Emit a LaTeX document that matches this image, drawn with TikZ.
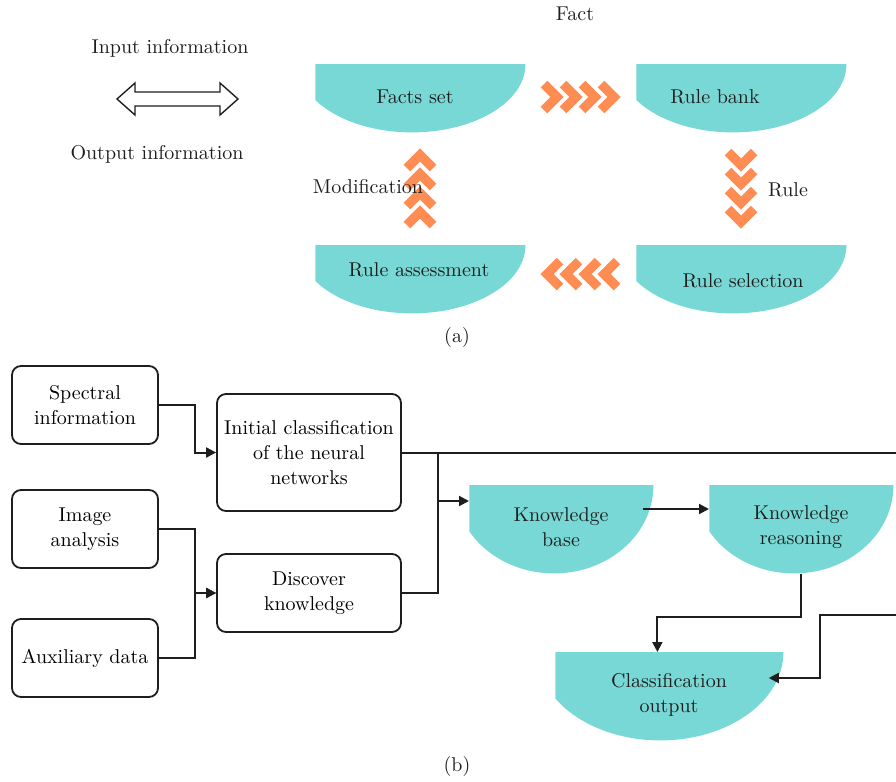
\documentclass[tikz,border=0pt]{standalone}
\usetikzlibrary{calc,arrows.meta,positioning}

\definecolor{bowlc}{RGB}{120,216,213}
\definecolor{chevc}{RGB}{255,140,82}
\definecolor{linec}{RGB}{30,30,30}

\tikzset{
  box/.style={draw=linec, line width=0.9pt, rounded corners=4.5pt, align=center, inner sep=0pt},
  bowl/.style 2 args={inner sep=0pt, anchor=north west, minimum width=#1, minimum height=#2,
    path picture={\fill[bowlc] ($(path picture bounding box.north west)!0.46!(path picture bounding box.north east)$)
      ellipse [x radius=0.54*#1, y radius=#2];}},
  lbl/.style={align=center, text=linec},
  conn/.style={draw=linec, line width=1pt},
  arr/.style={conn, -{Triangle[length=5pt,width=5pt]}},
  chev/.style={draw=chevc, line width=4.6pt},
}

\begin{document}
\begin{tikzpicture}[x=0.5pt,y=-0.5pt,font=\fontsize{10}{12.6}\selectfont]
\useasboundingbox (0,0) rectangle (896,782);

% (a) rule cycle
\node[lbl] (fact) at (575,14) {Fact};
\node[lbl] (inp) at (170,48) {Input information};
\node[lbl] (outp) at (157,154) {Output information};
\draw[draw=linec, line width=0.7pt, fill=white] (117,99) -- (135,83) -- (135,92) -- (220,92) -- (220,83)
  -- (238,99) -- (220,115) -- (220,106) -- (135,106) -- (135,115) -- cycle;

\node[bowl={105pt}{34pt}] (facts) at (315,64) {};
\node[bowl={105pt}{34pt}] (bank) at (636,64) {};
\node[bowl={105pt}{34pt}] (assess) at (315,245) {};
\node[bowl={105pt}{34pt}] (select) at (636,245) {};
\node[lbl] (facts-l) at (415,97) {Facts set};
\node[lbl] (bank-l) at (715,97) {Rule bank};
\node[lbl] (assess-l) at (419,270) {Rule assessment};
\node[lbl] (select-l) at (743,281) {Rule selection};

\foreach \x in {544,563,582,601}
  \draw[chev] (\x,84) -- (\x+13,97) -- (\x,110);
\foreach \y in {152,171,190,209}
  \draw[chev] (728,\y) -- (741,\y+13) -- (754,\y);
\foreach \x in {547,566,585,604}
  \draw[chev] (\x+13,261) -- (\x,274) -- (\x+13,287);
\foreach \y in {155,174,193,212}
  \draw[chev] (407,\y+13) -- (420,\y) -- (433,\y+13);

\node[lbl] (modif) at (368,187) {Modification};
\node[lbl] (rule) at (788,190) {Rule};
\node[lbl] (capa) at (457,337) {(a)};

% (b) classification flow
\node[box, minimum width=73pt, minimum height=39pt] (spec) at (85,405) {Spectral\\information};
\node[box, minimum width=73pt, minimum height=39pt] (img) at (85,529) {Image\\analysis};
\node[box, minimum width=73pt, minimum height=39pt] (aux) at (85,658) {Auxiliary data};
\node[box, minimum width=92pt, minimum height=58.5pt] (init) at (309,452.5) {Initial classification\\of the neural\\networks};
\node[box, minimum width=92pt, minimum height=39pt] (disc) at (309,593) {Discover\\knowledge};

\node[bowl={92pt}{44pt}] (kb) at (469,485) {};
\node[bowl={92pt}{44pt}] (kr) at (709,485) {};
\node[bowl={114pt}{44pt}] (co) at (555,652) {};
\node[lbl] (kb-l) at (561,527.5) {Knowledge\\base};
\node[lbl] (kr-l) at (801,527.5) {Knowledge\\reasoning};
\node[lbl] (co-l) at (669,695) {Classification\\output};

\coordinate (cutA) at (896,452.5);
\coordinate (cutB) at (896,615);
\coordinate (kbin) at ([yshift=-8pt]kb.north west);

\draw[arr] (spec.east) -- ++(36,0) |- (init.west);
\draw[arr] (img.east) -- ++(36,0) |- (disc.west);
\draw[arr] (aux.east) -- ++(36,0) |- (disc.west);
\draw[conn] (init.east) -- (cutA);
\draw[conn] (disc.east) -- ++(36,0) coordinate (jn) -- (jn |- init.east);
\draw[arr] (jn |- kbin) -- (kbin);
\draw[arr] ([shift={(-11,24)}]kb.north east) -- ([yshift=-12pt]kr.north west);
\draw[arr] (kr.south) -- ++(0,43) -| ([xshift=-6pt]co.north);
\draw[arr] (cutB) -- ++(-76,0) |- ([shift={(-15,26)}]co.north east);

\node[lbl] (capb) at (457,766) {(b)};

\end{tikzpicture}
\end{document}
